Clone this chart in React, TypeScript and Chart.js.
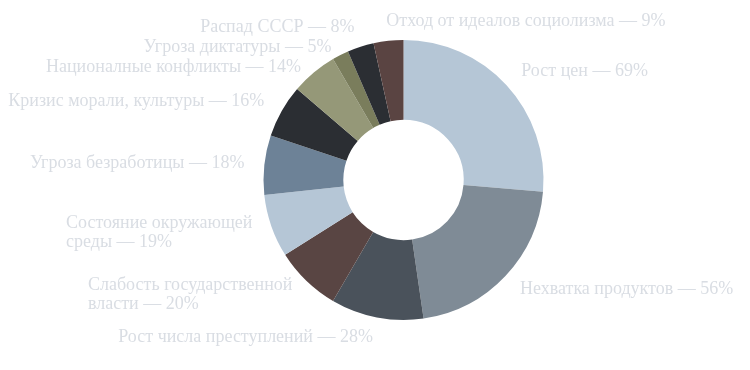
import React, { useEffect, useRef } from "react";
import { Chart, registerables } from "chart.js";

Chart.register(...registerables);

const categories: (string | string[])[] = [
  "Рост цен",
  "Нехватка продуктов",
  "Рост числа преступлений",
  ["Слабость государственной", "власти"],
  ["Состояние окружающей", "среды"],
  "Угроза безработицы",
  "Кризис морали, культуры",
  "Националные конфликты",
  "Угроза диктатуры",
  "Распад СССР",
  "Отход от идеалов социолизма",
];

const values = [69, 56, 28, 20, 19, 18, 16, 14, 5, 8, 9];

const colors = [
  "#b5c6d6",
  "#7f8b96",
  "#4a525b",
  "#594543",
  "#b5c6d6",
  "#6d8297",
  "#2b2e33",
  "#959878",
  "#7a7d5c",
  "#2b2e33",
  "#5a4442",
];

const LABEL_COLOR = "#d9dde3";
const FONT = '18px "Liberation Serif", "Times New Roman", serif';

const outsideLabels = {
  id: "outsideLabels",
  afterDatasetsDraw(chart: any) {
    const meta = chart.getDatasetMeta(0);
    const ctx = chart.ctx as CanvasRenderingContext2D;
    ctx.save();
    ctx.font = FONT;
    ctx.fillStyle = LABEL_COLOR;
    ctx.textBaseline = "middle";
    ctx.textAlign = "left";
    const lineH = 19;
    const gap = 1;
    const dist = 20;
    const items = meta.data.map((arc: any, i: number) => {
      const p = arc.getProps(["x", "y", "startAngle", "endAngle", "outerRadius"], true);
      const mid = (p.startAngle + p.endAngle) / 2;
      const r = p.outerRadius + dist;
      const ax = p.x + Math.cos(mid) * r;
      const ay = p.y + Math.sin(mid) * r;
      const name = categories[i];
      const lines = Array.isArray(name) ? [...name] : [name];
      lines[lines.length - 1] += ` — ${values[i]}%`;
      const left = ax < p.x - r * 0.15;
      return { ax, ay, y: ay, lines, left, h: lines.length * lineH };
    });
    [true, false].forEach((side) => {
      const group = items.filter((it: any) => it.left === side).sort((a: any, b: any) => a.ay - b.ay);
      for (let k = 1; k < group.length; k++) {
        const prev = group[k - 1];
        const cur = group[k];
        const minY = prev.y + prev.h / 2 + gap + cur.h / 2;
        cur.y = Math.max(cur.ay, minY);
      }
    });
    items.forEach((it: any) => {
      const w = Math.max(...it.lines.map((l: string) => ctx.measureText(l).width));
      const x0 = it.left ? it.ax - w : it.ax;
      it.lines.forEach((l: string, j: number) => {
        ctx.fillText(l, x0, it.y - it.h / 2 + lineH / 2 + j * lineH);
      });
    });
    ctx.restore();
  },
};

export default function App() {
  const ref = useRef<HTMLCanvasElement | null>(null);
  useEffect(() => {
    if (!ref.current) return;
    const chart = new Chart(ref.current, {
      type: "doughnut",
      data: {
        labels: categories as any,
        datasets: [
          {
            data: values,
            backgroundColor: colors,
            borderWidth: 0,
          },
        ],
      },
      options: {
        responsive: false,
        animation: false,
        cutout: "43%",
        layout: { padding: { left: 263, right: 206, top: 40, bottom: 50 } },
        plugins: {
          legend: { display: false },
          tooltip: { enabled: false },
        },
      },
      plugins: [outsideLabels],
    });
    return () => chart.destroy();
  }, []);
  return (
    <div style={{ position: "absolute", left: 0, top: 0, width: 750, height: 370, background: "#fff" }}>
      <canvas ref={ref} width={750} height={370} style={{ display: "block" }} />
    </div>
  );
}
